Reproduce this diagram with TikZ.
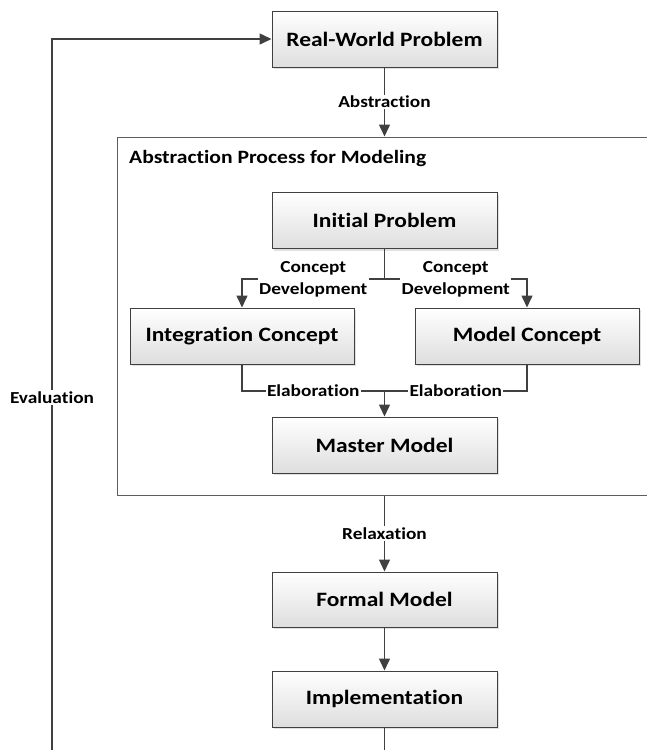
\documentclass[tikz,border=0pt]{standalone}
\usepackage{fontspec}
\setmainfont[FakeStretch=1.15, Ligatures=NoCommon]{Carlito}
\usetikzlibrary{arrows.meta,shadows}
\definecolor{linegray}{RGB}{64,64,64}
\definecolor{boxgray}{RGB}{222,222,222}
\begin{document}
\begin{tikzpicture}[x=1pt, y=-1pt,
    block/.style={draw=linegray, line width=1pt, top color=white,
      bottom color=boxgray, minimum width=225pt, minimum height=56pt,
      inner sep=0pt, font=\fontsize{20.4}{24}\selectfont\bfseries,
      drop shadow={shadow xshift=2pt, shadow yshift=-2pt, fill=black,
        opacity=0.12}},
    lbl/.style={fill=white, inner sep=1.5pt, align=center,
      font=\fontsize{16.8}{22}\selectfont\bfseries},
    flow/.style={draw=linegray, line width=1.5pt},
    arr/.style={flow, -{Triangle[length=12pt, width=11pt]}}]
  \useasboundingbox (0,0) rectangle (647,750);

  % Real-world problem
  \node [block] (rwp) at (384.5, 39) {Real-World Problem};

  % Abstraction frame
  \node [draw=linegray!85, line width=1pt, minimum width=543pt,
    minimum height=358pt, inner sep=0pt] (frame) at (388.5, 316) {};
  \node [anchor=west, inner sep=0pt,
    font=\fontsize{18.8}{22}\selectfont\bfseries] (title) at (129, 158)
    {Abstraction Process for Modeling};
  \draw [arr] (rwp) -- (rwp |- frame.north) node [lbl, midway] {Abstraction};

  % Inside the frame
  \node [block] (init) at (384.5, 220.5) {Initial Problem};
  \node [block, minimum width=224pt] (integ) at (242, 336) {Integration Concept};
  \node [block, minimum width=224pt] (modelc) at (527, 336) {Model Concept};
  \node [block] (master) at (384.5, 445) {Master Model};

  \coordinate (split) at (384.5, 279);
  \coordinate (join) at (384.5, 391);
  \draw [flow] (init) -- (split);
  \draw [arr] (split) -| (integ.north)
        node [lbl, pos=0.25] {Concept\\Development};
  \draw [arr] (split) -| (modelc.north)
        node [lbl, pos=0.25] {Concept\\Development};
  \draw [flow] (integ) |- (join) node [lbl, pos=0.75] {Elaboration};
  \draw [flow] (modelc) |- (join) node [lbl, pos=0.75] {Elaboration};
  \draw [arr] (join) -- (master);

  % Formal model and implementation
  \node [block, minimum height=55pt] (formal) at (384.5, 599.5) {Formal Model};
  \node [block] (impl) at (384.5, 699) {Implementation};
  \draw [arr] (frame.south -| formal) -- (formal) node [lbl, midway] {Relaxation};
  \draw [arr] (formal) -- (impl);

  % Evaluation loop
  \coordinate (loopb) at (384.5, 770);
  \coordinate (loopl) at (52, 770);
  \coordinate (loopt) at (52, 39);
  \draw [arr] (impl) -- (loopb) -- (loopl)
        -- node [lbl, pos=0.51] {Evaluation} (loopt) -- (rwp);
\end{tikzpicture}
\end{document}
